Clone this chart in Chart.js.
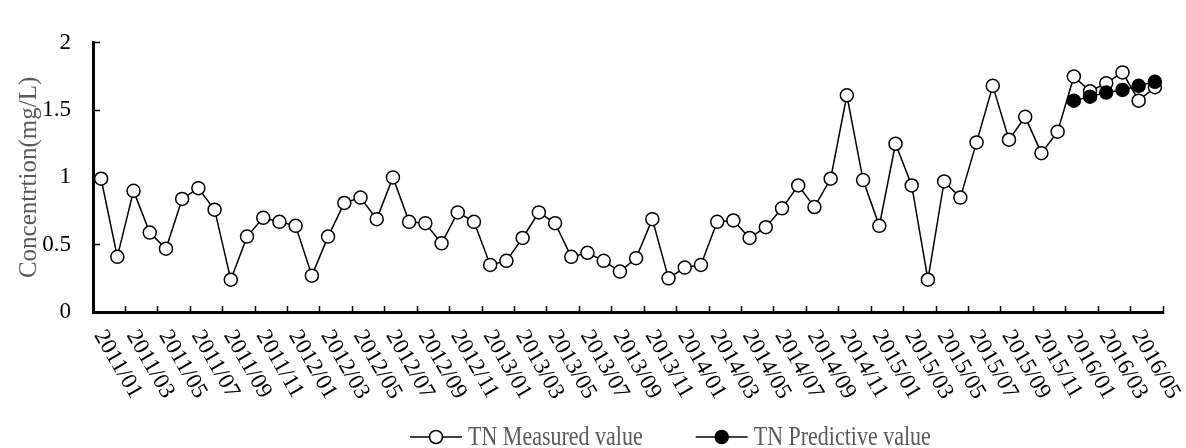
<!DOCTYPE html>
<html>
<head>
<meta charset="utf-8">
<script src="https://cdn.jsdelivr.net/npm/chart.js@4.4.0/dist/chart.umd.min.js"></script>
<style>
  html, body { margin: 0; padding: 0; background: #fff; }
  #wrap { width: 1186px; height: 448px; }
</style>
</head>
<body>
<div id="wrap"><canvas id="myChart"></canvas></div>
<script>
// ↓ Données ↓

const months = [
  '2011/01', '2011/02', '2011/03', '2011/04', '2011/05', '2011/06', '2011/07', '2011/08', '2011/09', '2011/10', '2011/11', '2011/12',
  '2012/01', '2012/02', '2012/03', '2012/04', '2012/05', '2012/06', '2012/07', '2012/08', '2012/09', '2012/10', '2012/11', '2012/12',
  '2013/01', '2013/02', '2013/03', '2013/04', '2013/05', '2013/06', '2013/07', '2013/08', '2013/09', '2013/10', '2013/11', '2013/12',
  '2014/01', '2014/02', '2014/03', '2014/04', '2014/05', '2014/06', '2014/07', '2014/08', '2014/09', '2014/10', '2014/11', '2014/12',
  '2015/01', '2015/02', '2015/03', '2015/04', '2015/05', '2015/06', '2015/07', '2015/08', '2015/09', '2015/10', '2015/11', '2015/12',
  '2016/01', '2016/02', '2016/03', '2016/04', '2016/05', '2016/06'
];

// une étiquette sur deux
const tickLabels = months.filter((m, i) => i % 2 === 0);

const measured = [
  0.99, 0.41, 0.90, 0.59, 0.47, 0.84, 0.92, 0.76, 0.24, 0.56, 0.70, 0.67,
  0.64, 0.27, 0.56, 0.81, 0.85, 0.69, 1.00, 0.67, 0.66, 0.51, 0.74, 0.67,
  0.35, 0.38, 0.55, 0.74, 0.66, 0.41, 0.44, 0.38, 0.30, 0.40, 0.69, 0.25,
  0.33, 0.35, 0.67, 0.68, 0.55, 0.63, 0.77, 0.94, 0.78, 0.99, 1.61, 0.98,
  0.64, 1.25, 0.94, 0.24, 0.97, 0.85, 1.26, 1.68, 1.28, 1.45, 1.18, 1.34,
  1.75, 1.64, 1.70, 1.78, 1.57, 1.67
];

const predicted = [
  null, null, null, null, null, null, null, null, null, null, null, null,
  null, null, null, null, null, null, null, null, null, null, null, null,
  null, null, null, null, null, null, null, null, null, null, null, null,
  null, null, null, null, null, null, null, null, null, null, null, null,
  null, null, null, null, null, null, null, null, null, null, null, null,
  1.57, 1.60, 1.63, 1.65, 1.68, 1.71
];

const seriesNames = ['TN Measured value', 'TN Predictive value'];
const yTitle = 'Concentrtion(mg/L)';

const serif = '"Liberation Serif", "Times New Roman", serif';

// ↓ étiquettes de l'axe x (inclinées vers le bas) ↓
const xLabelPlugin = {
  id: 'xLabels',
  afterDraw(chart) {
    const ctx = chart.ctx;
    const xs = chart.scales.x;
    ctx.save();
    ctx.font = '23px ' + serif;
    ctx.fillStyle = '#000';
    ctx.textAlign = 'left';
    ctx.textBaseline = 'middle';
    tickLabels.forEach((lab, i) => {
      const px = xs.getPixelForValue(i * 2);
      ctx.save();
      ctx.translate(px - 2, xs.top + 20);
      ctx.rotate(60 * Math.PI / 180);
      ctx.fillText(lab, 0, 0);
      ctx.restore();
    });
    ctx.restore();
  }
};

// ↓ légende en bas : trait + rond ↓
const legendPlugin = {
  id: 'bottomLegend',
  afterDraw(chart) {
    const ctx = chart.ctx;
    const y = 437;
    let x = 410;
    ctx.save();
    ctx.font = '22px ' + serif;
    ctx.textBaseline = 'middle';
    chart.data.datasets.forEach((ds) => {
      ctx.strokeStyle = '#000';
      ctx.lineWidth = 1.5;
      ctx.beginPath();
      ctx.moveTo(x, y);
      ctx.lineTo(x + 52, y);
      ctx.stroke();
      ctx.beginPath();
      ctx.arc(x + 26, y, 6.5, 0, Math.PI * 2);
      ctx.fillStyle = ds.pointBackgroundColor;
      ctx.fill();
      ctx.stroke();
      // texte un peu étiré en hauteur comme sur l'original
      ctx.save();
      ctx.translate(x + 58, y + 1);
      ctx.scale(1, 1.2);
      ctx.fillStyle = '#595959';
      ctx.fillText(ds.label, 0, 0);
      ctx.restore();
      x += 58 + ctx.measureText(ds.label).width + 53;
    });
    ctx.restore();
  }
};

const ctx = document.getElementById('myChart');

new Chart(ctx, {
  type: 'line',
  data: {
    labels: months,
    datasets: [{
      label: seriesNames[0],
      data: measured,
      order: 2,
      borderColor: '#000',
      borderWidth: 1.5,
      pointRadius: 6.5,
      pointBorderWidth: 1.5,
      pointBorderColor: '#000',
      pointBackgroundColor: '#fff',
      tension: 0,
    }, {
      label: seriesNames[1],
      data: predicted,
      order: 1,
      borderColor: '#000',
      borderWidth: 1.5,
      pointRadius: 6.5,
      pointBorderWidth: 1.5,
      pointBorderColor: '#000',
      pointBackgroundColor: '#000',
      tension: 0,
    }]
  },
  options: {
    responsive: true,
    maintainAspectRatio: false,
    animation: false,
    layout: {
      padding: { top: 19, right: 23, left: 0, bottom: 0 },
    },
    plugins: {
      legend: { display: false },
      tooltip: { enabled: false },
    },
    scales: {
      x: {
        type: 'category',
        offset: true,
        grid: {
          offset: true,
          drawOnChartArea: false,
          tickLength: -6,
          tickWidth: 1.5,
          tickColor: (c) => (c.index === undefined || c.index % 2 === 0) ? '#000' : 'rgba(0,0,0,0)',
        },
        border: { color: '#000', width: 3 },
        ticks: { display: false, autoSkip: false },
        afterFit: (s) => { s.height = 136; },
      },
      y: {
        min: 0,
        max: 2,
        grid: {
          drawOnChartArea: false,
          tickLength: -7,
          tickWidth: 1.5,
          tickColor: '#000',
        },
        border: { color: '#000', width: 3 },
        ticks: {
          stepSize: 0.5,
          padding: 29,
          color: '#000',
          font: { family: serif, size: 23 },
          callback: (v) => String(v),
        },
        title: {
          display: true,
          text: yTitle,
          color: '#595959',
          font: { family: serif, size: 25 },
          padding: { top: 14, bottom: 0 },
        },
        afterFit: (s) => { s.width = 93; },
      },
    },
  },
  plugins: [xLabelPlugin, legendPlugin],
});
</script>
</body>
</html>
